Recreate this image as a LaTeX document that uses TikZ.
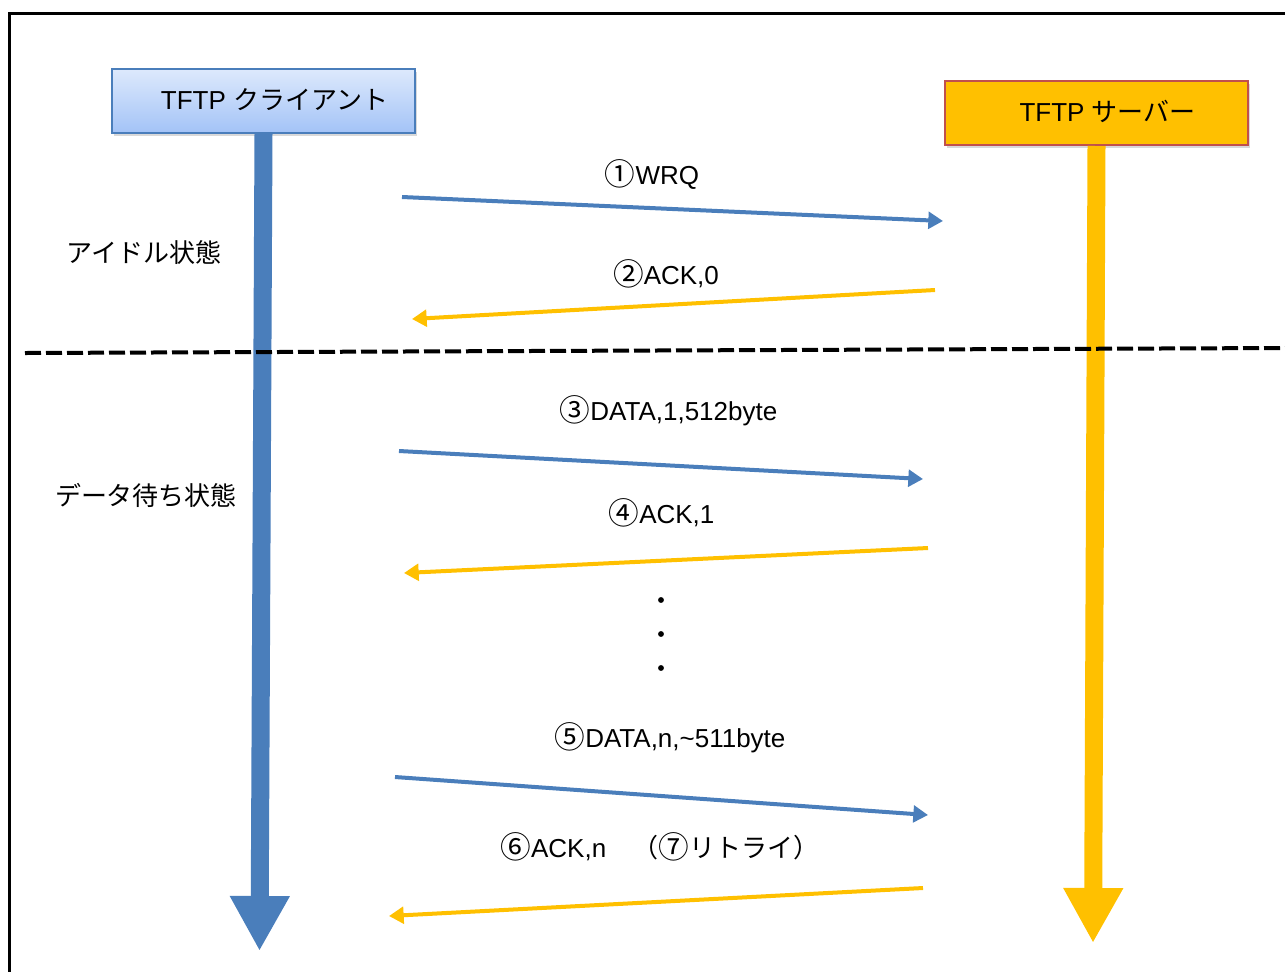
\documentclass[tikz,border=0pt]{standalone}
\usepackage{fontspec}
\setmainfont{Liberation Sans}
\newfontfamily\jp{Noto Sans CJK JP}
\newcommand{\circd}[1]{{\jp\fontsize{23pt}{23pt}\selectfont\raisebox{-1pt}{#1}}}
\usetikzlibrary{arrows.meta,shadows}
\definecolor{lblue}{HTML}{4A7EBB}
\definecolor{lyel}{HTML}{FFC000}
\definecolor{btop}{HTML}{DDE9FC}
\definecolor{bbot}{HTML}{A3C3F7}
\definecolor{sred}{HTML}{C0504D}
\begin{document}
\begin{tikzpicture}[x=0.75pt,y=-0.75pt,
  font=\fontsize{19.5pt}{23pt}\selectfont,
  box/.style={minimum width=227.25pt, minimum height=48pt, inner sep=0pt,
    drop shadow={opacity=0.3,shadow xshift=1.5pt,shadow yshift=-2.5pt}},
  cbox/.style={box, top color=btop, bottom color=bbot, draw=lblue, line width=1.5pt},
  sbox/.style={box, fill=lyel, draw=sred, line width=1.5pt},
  life/.style={line width=13.5pt, -{Triangle[length=41.25pt,width=42pt]}},
  msg/.style={line width=3pt, -{Triangle[length=11pt,width=12.5pt]}},
  lbl/.style={anchor=base, inner sep=0pt},
  sep/.style={line width=3pt, dash pattern=on 12pt off 3.75pt},
  frame/.style={line width=2.25pt},
]
\useasboundingbox (0,0) rectangle (1285,972);
% frame
\draw[frame] (1285,13) -- (9,13) -- (9,972);

% boxes
\node[cbox] (client) at (263.5,101) {\hspace*{16.5pt}\raisebox{2.5pt}{TFTP {\jp クライアント}}};
\node[sbox] (server) at (1096.5,113) {\hspace*{16.5pt}\raisebox{2.5pt}{TFTP {\jp サーバー}}};

% lifelines
\coordinate (cend) at (259.5,951);
\coordinate (send) at (1093,943);
\draw[life, lblue] (client.south) -- (cend);
\draw[life, lyel] (server.south) -- (send);

% separator
\coordinate (d1) at (25,353);
\coordinate (d2) at (1285,348);
\draw[sep] (d1) -- (d2);

% state labels
\node[lbl] (st1) at (144,262) {\jp アイドル状態};
\node[lbl] (st2) at (146,505) {\jp データ待ち状態};

% messages
\coordinate (m1s) at (402,197); \coordinate (m1e) at (943,221);
\coordinate (m2s) at (935,290); \coordinate (m2e) at (412,319);
\coordinate (m3s) at (399,451); \coordinate (m3e) at (923,479);
\coordinate (m4s) at (928,548); \coordinate (m4e) at (404,573);
\coordinate (m5s) at (395,777); \coordinate (m5e) at (928,815);
\coordinate (m6s) at (923,888); \coordinate (m6e) at (389,916);
\draw[msg, lblue] (m1s) -- (m1e);
\draw[msg, lyel] (m2s) -- (m2e);
\draw[msg, lblue] (m3s) -- (m3e);
\draw[msg, lyel] (m4s) -- (m4e);
\draw[msg, lblue] (m5s) -- (m5e);
\draw[msg, lyel] (m6s) -- (m6e);

\node[lbl] (l1) at (652,184.5) {\circd{①}WRQ};
\node[lbl] (l2) at (666,284.5) {\circd{②}ACK,0};
\node[lbl] (l3) at (668.5,420.5) {\circd{③}DATA,1,512byte};
\node[lbl] (l4) at (661.5,523.5) {\circd{④}ACK,1};
\node[lbl] (l5) at (670,747.5) {\circd{⑤}DATA,n,\textasciitilde511byte};
\node[lbl] (l6) at (660,857.5) {\circd{⑥}ACK,n\hspace{20pt}{\jp （\circd{⑦}リトライ）}};

% dots
\fill (661,600) circle (2.2pt);
\fill (661,634) circle (2.2pt);
\fill (661,668) circle (2.2pt);
\end{tikzpicture}
\end{document}
